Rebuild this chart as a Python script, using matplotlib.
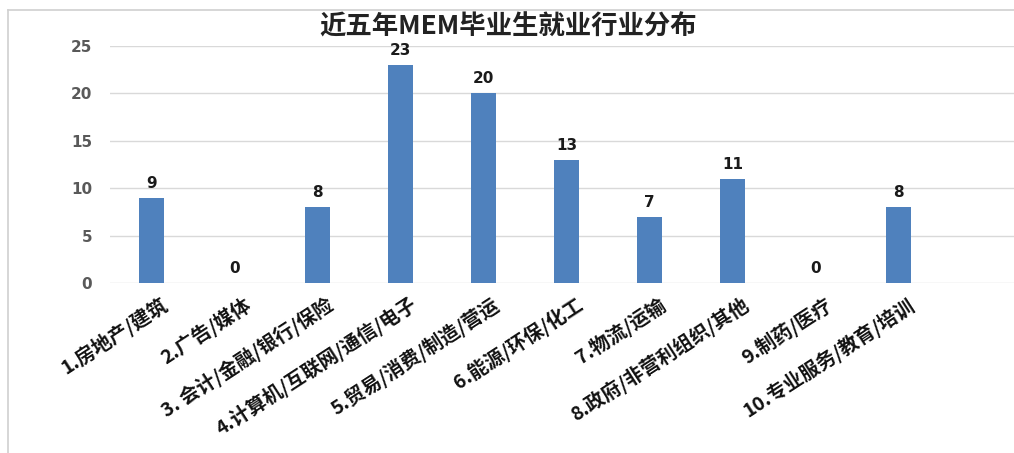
import numpy as np
import matplotlib.pyplot as plt
from matplotlib.lines import Line2D
from matplotlib.transforms import ScaledTranslation

plt.rcParams['font.family'] = ['Noto Sans CJK SC', 'DejaVu Sans']

# data
categories = ['1.房地产/建筑', '2.广告/媒体', '3. 会计/金融/银行/保险',
              '4.计算机/互联网/通信/电子', '5.贸易/消费/制造/营运',
              '6.能源/环保/化工', '7.物流/运输', '8.政府/非营利组织/其他',
              '9.制药/医疗', '10.专业服务/教育/培训']
counts = [9, 0, 8, 23, 20, 13, 7, 11, 0, 8]
yticks = [0, 5, 10, 15, 20, 25]
title = '近五年MEM毕业生就业行业分布'

W, H = 1014, 453
fig = plt.figure(figsize=(W / 100, H / 100), dpi=100)

# axes placed to match the reference pixel layout
left, right, top, bottom = 110, 1014, 46, 283
ax = fig.add_axes([left / W, 1 - bottom / H, (right - left) / W, (bottom - top) / H])

x = np.arange(len(categories))
bars = ax.bar(x, counts, width=0.31, color='#4F81BD', zorder=3)

ax.set_xlim(-0.5, 10.39)
ax.set_ylim(0, 25)
ax.set_yticks(yticks)
ax.set_yticklabels([str(v) for v in yticks], fontsize=11, fontweight='bold',
                   color='#595959', family='DejaVu Sans')
ax.tick_params(axis='y', length=0, pad=13)
ax.tick_params(axis='x', length=0, pad=2)
ax.yaxis.grid(True, color='#D9D9D9', linewidth=1, zorder=0)
for s in ax.spines.values():
    s.set_visible(False)

# value labels
for xi, v in zip(x, counts):
    ax.annotate(str(v), (xi, v), xytext=(0, 5), textcoords='offset points',
                ha='center', va='bottom', fontsize=11, fontweight='bold',
                family='DejaVu Sans', color='#1a1a1a')

# rotated category labels
ax.set_xticks(x)
ax.set_xticklabels(categories, rotation=33, ha='right', fontsize=14,
                   fontweight='bold', color='#111111')
offset = ScaledTranslation(20 / 100, -8 / 100, fig.dpi_scale_trans)
for lab in ax.get_xticklabels():
    lab.set_transform(lab.get_transform() + offset)

fig.text(508 / W, 1 - 27 / H, title, ha='center', va='center',
         fontsize=19, fontweight='bold', color='#222222')

# light frame of the original chart area
fig.add_artist(Line2D([8 / W, 1], [1 - 10 / H, 1 - 10 / H], color='#D0D0D0', lw=1.2))
fig.add_artist(Line2D([8 / W, 8 / W], [0, 1 - 10 / H], color='#D0D0D0', lw=1.2))

fig.savefig('out.png', dpi=100)
